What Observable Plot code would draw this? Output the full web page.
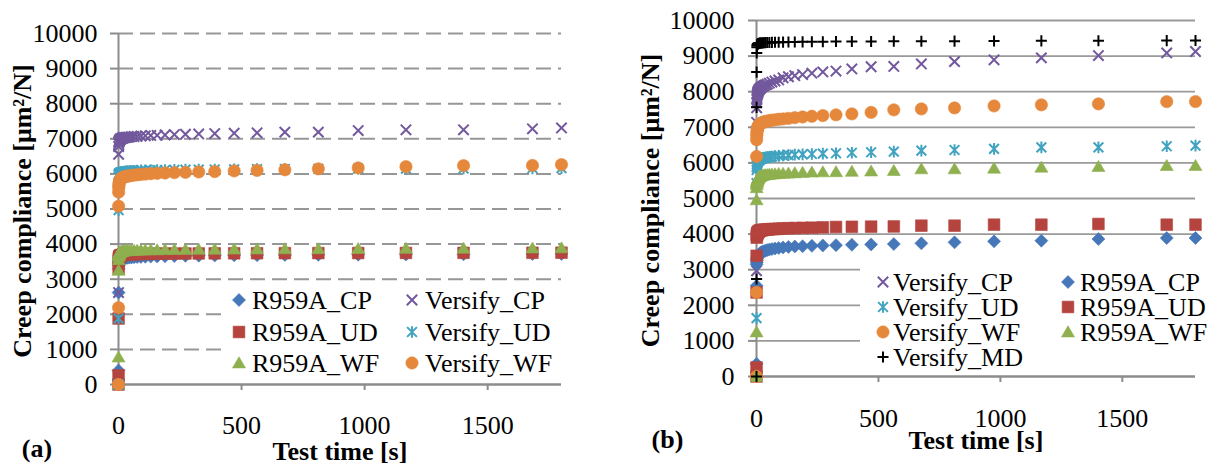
<!DOCTYPE html>
<html><head><meta charset="utf-8">
<script src="https://cdn.jsdelivr.net/npm/d3@7"></script>
<script src="https://cdn.jsdelivr.net/npm/@observablehq/plot@0.6"></script>
<style>
html,body{margin:0;padding:0;background:#fff;}
#wrap{position:relative;width:1218px;height:465px;overflow:hidden;background:#fff;}
#a{position:absolute;left:0;top:0;width:600px;height:465px;}
#b{position:absolute;left:600px;top:0;width:618px;height:465px;}
</style></head><body><div id="wrap"><div id="a"></div><div id="b"></div></div>
<script>
// ---------- data ----------
const times = [0, 0.2, 0.4, 0.6, 1, 1.5, 2, 3, 4, 5, 6, 7, 8.5, 10, 12, 14.7, 17.6, 21, 25.4, 30.5, 36.6, 43.9, 52.7, 63.2, 75.9, 91, 109, 131, 157, 189, 227, 272, 326, 391, 470, 563, 676, 812, 974, 1168, 1402, 1682, 1800];
const xTicks = [0, 500, 1000, 1500];
const yTicks = [0, 1000, 2000, 3000, 4000, 5000, 6000, 7000, 8000, 9000, 10000];
const xTitle = "Test time [s]";
const yTitle = "Creep compliance [μm²/N]";
const panelLabels = ["(a)", "(b)"];

// panel (a)
const a_R959A_CP = [0, 400, 2620, 3300, 3400, 3450, 3480, 3500, 3520, 3530, 3540, 3550, 3560, 3565, 3570, 3580, 3585, 3590, 3600, 3605, 3610, 3615, 3620, 3625, 3630, 3635, 3640, 3645, 3650, 3655, 3660, 3665, 3670, 3675, 3680, 3685, 3690, 3695, 3700, 3705, 3710, 3715, 3720];
const a_R959A_UD = [0, 260, 1880, 3300, 3520, 3580, 3610, 3630, 3645, 3655, 3662, 3668, 3674, 3680, 3685, 3690, 3693, 3696, 3699, 3702, 3705, 3708, 3711, 3714, 3717, 3720, 3722, 3724, 3726, 3728, 3730, 3732, 3734, 3736, 3738, 3740, 3742, 3744, 3746, 3748, 3750, 3752, 3755];
const a_R959A_WF = [0, 780, 3250, 3550, 3650, 3700, 3720, 3740, 3750, 3760, 3765, 3770, 3775, 3780, 3785, 3790, 3795, 3800, 3805, 3810, 3812, 3815, 3818, 3820, 3823, 3826, 3830, 3833, 3836, 3840, 3843, 3846, 3850, 3853, 3856, 3860, 3863, 3866, 3870, 3875, 3880, 3885, 3890];
const a_Versify_CP = [0, 2620, 6560, 6780, 6860, 6900, 6920, 6940, 6955, 6965, 6975, 6985, 6995, 7000, 7010, 7015, 7020, 7030, 7035, 7040, 7045, 7050, 7060, 7065, 7070, 7080, 7085, 7095, 7100, 7110, 7120, 7130, 7140, 7150, 7160, 7170, 7190, 7190, 7235, 7255, 7255, 7285, 7310];
const a_Versify_UD = [0, 1880, 4970, 5930, 5970, 5990, 6000, 6010, 6015, 6020, 6025, 6030, 6035, 6040, 6045, 6050, 6055, 6060, 6065, 6070, 6075, 6080, 6085, 6090, 6095, 6100, 6100, 6105, 6110, 6110, 6115, 6120, 6120, 6125, 6130, 6135, 6140, 6145, 6150, 6150, 6155, 6160, 6165];
const a_Versify_WF = [0, 2190, 5080, 5480, 5600, 5670, 5710, 5750, 5780, 5800, 5820, 5835, 5850, 5860, 5875, 5885, 5895, 5905, 5915, 5925, 5935, 5945, 5955, 5965, 5975, 5985, 5995, 6005, 6015, 6025, 6035, 6045, 6055, 6065, 6085, 6100, 6117, 6145, 6170, 6205, 6235, 6240, 6265];

// panel (b)
const b_Versify_CP = [0, 2970, 7140, 7550, 7700, 7780, 7840, 7900, 7940, 7970, 7990, 8010, 8030, 8050, 8070, 8090, 8110, 8130, 8150, 8170, 8190, 8210, 8240, 8270, 8300, 8330, 8390, 8420, 8450, 8480, 8520, 8555, 8580, 8640, 8700, 8710, 8780, 8845, 8895, 8950, 9015, 9090, 9130];
const b_R959A_CP = [0, 357, 2550, 3150, 3200, 3260, 3300, 3330, 3350, 3370, 3385, 3400, 3415, 3430, 3445, 3460, 3475, 3490, 3505, 3520, 3535, 3550, 3565, 3580, 3595, 3610, 3625, 3640, 3650, 3660, 3670, 3680, 3690, 3700, 3710, 3720, 3740, 3768, 3796, 3815, 3862, 3890, 3890];
const b_Versify_UD = [0, 1640, 5430, 5800, 5870, 5920, 5960, 5990, 6010, 6030, 6045, 6060, 6070, 6080, 6090, 6100, 6110, 6120, 6130, 6140, 6150, 6160, 6170, 6180, 6190, 6200, 6210, 6220, 6230, 6240, 6250, 6260, 6270, 6285, 6300, 6317, 6345, 6363, 6392, 6438, 6438, 6467, 6486];
const b_R959A_UD = [0, 253, 2360, 3390, 3900, 3960, 3990, 4010, 4030, 4040, 4050, 4060, 4070, 4080, 4090, 4100, 4105, 4110, 4115, 4120, 4125, 4130, 4135, 4140, 4145, 4150, 4160, 4165, 4170, 4175, 4180, 4190, 4200, 4205, 4210, 4215, 4237, 4237, 4265, 4265, 4284, 4265, 4265];
const b_Versify_WF = [0, 2360, 6180, 6650, 6760, 6830, 6880, 6930, 6960, 6990, 7010, 7030, 7050, 7065, 7080, 7095, 7110, 7120, 7135, 7150, 7160, 7175, 7185, 7200, 7210, 7225, 7235, 7250, 7270, 7290, 7310, 7330, 7350, 7376, 7420, 7490, 7516, 7544, 7600, 7630, 7657, 7720, 7722];
const b_R959A_WF = [0, 1250, 4960, 5300, 5390, 5440, 5470, 5500, 5520, 5540, 5555, 5570, 5585, 5600, 5610, 5620, 5630, 5640, 5650, 5660, 5665, 5670, 5680, 5685, 5690, 5700, 5705, 5710, 5720, 5730, 5740, 5745, 5750, 5760, 5770, 5783, 5830, 5830, 5849, 5877, 5896, 5924, 5924];
const b_Versify_MD = [0, 2740, 7560, 8550, 9090, 9250, 9300, 9320, 9330, 9340, 9345, 9350, 9355, 9360, 9362, 9365, 9368, 9370, 9372, 9375, 9378, 9380, 9382, 9385, 9388, 9390, 9392, 9395, 9398, 9400, 9402, 9405, 9408, 9410, 9412, 9415, 9418, 9420, 9425, 9428, 9432, 9435, 9438];

// ---------- styling ----------
const FONT = "'Liberation Serif', 'Times New Roman', serif";
const C = {blue:"#4677B8", red:"#B5443F", green:"#8FB04F", purple:"#72589C", teal:"#41A3C0", orange:"#E5883C", black:"#000000"};
const R = 6.5;

const rad = s => Math.sqrt(s / Math.PI);
const symDiamond = {draw(c, s){const r = rad(s); c.moveTo(0,-r); c.lineTo(r,0); c.lineTo(0,r); c.lineTo(-r,0); c.closePath();}};
const symSquare = {draw(c, s){const r = rad(s)*0.9; c.rect(-r,-r,2*r,2*r);}};
const symTriangle = {draw(c, s){const r = rad(s); c.moveTo(0,-0.95*r); c.lineTo(r,0.75*r); c.lineTo(-r,0.75*r); c.closePath();}};
const symCircle = {draw(c, s){const r = rad(s)*0.95; c.moveTo(r,0); c.arc(0,0,r,0,2*Math.PI);}};
const symTimes = {draw(c, s){const r = rad(s)*0.8; c.moveTo(-r,-r); c.lineTo(r,r); c.moveTo(-r,r); c.lineTo(r,-r);}};
const symStar = {draw(c, s){const r = rad(s)*0.75; c.moveTo(-r,-r); c.lineTo(r,r); c.moveTo(-r,r); c.lineTo(r,-r); c.moveTo(0,-r*1.2); c.lineTo(0,r*1.2);}};
const symPlus = {draw(c, s){const r = rad(s)*0.85; c.moveTo(-r,0); c.lineTo(r,0); c.moveTo(0,-r); c.lineTo(0,r);}};

const S = {
  R959A_CP: {sym: symDiamond, color: C.blue, filled: true},
  R959A_UD: {sym: symSquare, color: C.red, filled: true},
  R959A_WF: {sym: symTriangle, color: C.green, filled: true},
  Versify_CP: {sym: symTimes, color: C.purple, filled: false},
  Versify_UD: {sym: symStar, color: C.teal, filled: false},
  Versify_WF: {sym: symCircle, color: C.orange, filled: true},
  Versify_MD: {sym: symPlus, color: C.black, filled: false}
};

const seriesA = [["R959A_CP", a_R959A_CP], ["R959A_UD", a_R959A_UD], ["R959A_WF", a_R959A_WF], ["Versify_CP", a_Versify_CP], ["Versify_UD", a_Versify_UD], ["Versify_WF", a_Versify_WF]];
const seriesB = [["Versify_CP", b_Versify_CP], ["R959A_CP", b_R959A_CP], ["Versify_UD", b_Versify_UD], ["R959A_UD", b_R959A_UD], ["Versify_WF", b_Versify_WF], ["R959A_WF", b_R959A_WF], ["Versify_MD", b_Versify_MD]];

function dotMark(name, values) {
  const st = S[name];
  const data = times.map((t, i) => ({t, v: values[i]}));
  return st.filled
    ? Plot.dot(data, {x: "t", y: "v", symbol: st.sym, r: R, fill: st.color, stroke: st.color, strokeWidth: 0.6})
    : Plot.dot(data, {x: "t", y: "v", symbol: st.sym, r: R, fill: "none", stroke: st.color, strokeWidth: 2});
}

function panel(cfg) {
  const grid = cfg.dashed
    ? Plot.ruleY(yTicks.filter(d => d > 0), {stroke: "#979797", strokeWidth: 2, strokeDasharray: "15,7"})
    : Plot.ruleY(yTicks.filter(d => d > 0), {stroke: "#9a9a9a", strokeWidth: 1.8});
  return Plot.plot({
    width: cfg.width, height: 465,
    marginLeft: cfg.ml, marginRight: cfg.mr, marginTop: cfg.mt, marginBottom: cfg.mb,
    style: {fontFamily: FONT, fontSize: "26px", color: "black", background: "white", overflow: "visible"},
    x: {domain: [0, 1800], label: null},
    y: {domain: [0, 10000], label: null},
    marks: [
      grid,
      Plot.axisY({ticks: yTicks, tickSize: 8, tickPadding: cfg.yPad, tickFormat: d => String(d), stroke: "#8c8c8c", strokeWidth: 2, label: null}),
      Plot.axisX({ticks: xTicks, tickSize: 6, tickPadding: cfg.xPad, tickFormat: d => String(d), stroke: "#8c8c8c", strokeWidth: 2, label: null}),
      Plot.ruleX([0], {stroke: "#8c8c8c", strokeWidth: 2}),
      Plot.ruleY([0], {stroke: "#8c8c8c", strokeWidth: 2.5}),
      ...cfg.series.map(([n, v]) => dotMark(n, v)),
      Plot.text([xTitle], {frameAnchor: "bottom", dy: cfg.xTitleDy, fontWeight: "bold", fontSize: 26, textAnchor: "middle", lineAnchor: "middle"}),
      Plot.text([yTitle], {frameAnchor: "left", dx: cfg.yTitleDx, dy: cfg.yTitleDy, rotate: -90, fontWeight: "bold", fontSize: 26, textAnchor: "middle", lineAnchor: "middle"})
    ]
  });
}

function addLegend(svg, rows, box) {
  const g = d3.select(svg).append("g");
  g.append("rect").attr("x", box.x).attr("y", box.y).attr("width", box.w).attr("height", box.h).attr("fill", "white");
  rows.forEach((row, ri) => {
    row.forEach((name, ci) => {
      if (!name) return;
      const st = S[name];
      const mx = box.mx[ci], my = box.rows[ri];
      const p = g.append("path").attr("transform", `translate(${mx},${my})`).attr("d", d3.symbol(st.sym, Math.PI * R * R)());
      if (st.filled) p.attr("fill", st.color).attr("stroke", st.color).attr("stroke-width", 0.6);
      else p.attr("fill", "none").attr("stroke", st.color).attr("stroke-width", 2);
      g.append("text").attr("x", box.tx[ci]).attr("y", my).attr("dy", "0.34em").attr("text-anchor", "start").attr("font-size", 26).text(name);
    });
  });
}

function addPanelLabel(svg, label, x, y) {
  d3.select(svg).append("text").attr("x", x).attr("y", y).attr("dy", "0.34em").attr("text-anchor", "middle")
    .attr("font-weight", "bold").attr("font-size", 26).text(label);
}

// ---------- panel (a) ----------
const svgA = panel({width: 600, ml: 118, mr: 39, mt: 33, mb: 81, series: seriesA, dashed: true, yPad: 13, xPad: 25, xTitleDy: 67, yTitleDx: -96, yTitleDy: 2});
addLegend(svgA, [["R959A_CP", "Versify_CP"], ["R959A_UD", "Versify_UD"], ["R959A_WF", "Versify_WF"]],
  {x: 222, y: 284, w: 339, h: 94, mx: [239, 412], tx: [252, 425], rows: [300, 332, 363]});
addPanelLabel(svgA, panelLabels[0], 37, 448);
document.getElementById("a").appendChild(svgA);

// ---------- panel (b) ----------
const svgB = panel({width: 618, ml: 156, mr: 23, mt: 20, mb: 89, series: seriesB, dashed: false, yPad: 14, xPad: 26, xTitleDy: 64, yTitleDx: -106, yTitleDy: 2});
addLegend(svgB, [["Versify_CP", "R959A_CP"], ["Versify_UD", "R959A_UD"], ["Versify_WF", "R959A_WF"], ["Versify_MD", null]],
  {x: 260, y: 266, w: 358, h: 104, mx: [283, 468], tx: [293, 480], rows: [282, 307, 332, 357]});
addPanelLabel(svgB, panelLabels[1], 67.5, 439);
document.getElementById("b").appendChild(svgB);
</script></body></html>
